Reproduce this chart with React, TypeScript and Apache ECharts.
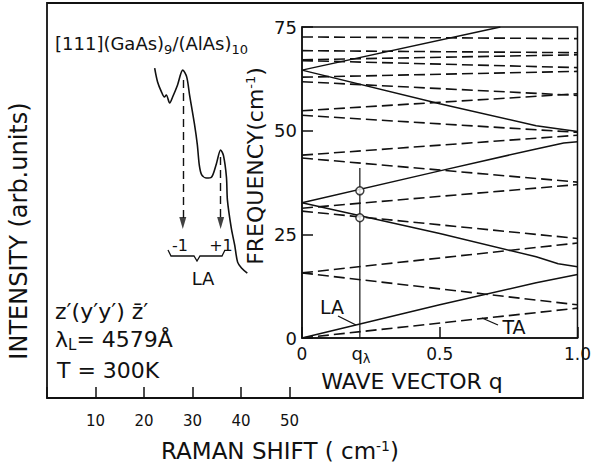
import React, { useEffect, useRef } from 'react';
import * as echarts from 'echarts';

// ---------- Left panel: Raman spectrum ----------
const ramanTickValues = [10, 20, 30, 40, 50];
const spectrumShift = [22.2, 22.8, 23.6, 24.2, 24.6, 25.3, 25.9, 26.9, 28.0, 28.8, 29.4, 30.4, 31.0, 31.4, 31.9, 32.9, 33.9, 34.9, 35.8, 36.4, 37.0, 37.2, 38.0, 38.7, 39.3, 40.1, 41.3];
const spectrumIntensity = [83.5, 80.0, 77.5, 76.2, 76.7, 74.7, 76.2, 79.2, 83.0, 81.3, 76.7, 69.4, 64.1, 59.0, 56.5, 55.7, 55.9, 59.2, 62.8, 61.3, 55.9, 50.1, 43.0, 38.7, 34.4, 32.9, 31.6];
const peakLabels = ['-1', '+1'];
const peakShift = [28.0, 35.8];
const peakArrowTop = [80.5, 61.0];
const peakArrowBottom = [42.8, 42.8];

// ---------- Right panel: folded phonon dispersion ----------
const freqTicks = [0, 25, 50, 75];
const qTickValues = [0, 0.5, 1];
const qTickLabels = ['0', '0.5', '1.0'];
const laBranches = [
  [[0, 0], [0.5, 8.0], [0.85, 13.3], [1, 15.3]],
  [[0, 32.6], [0.5, 25.2], [0.85, 19.6], [0.93, 17.9], [1, 17.2]],
  [[0, 32.6], [0.5, 40.3], [0.85, 45.6], [0.95, 47.0], [1, 47.3]],
  [[0, 64.6], [0.5, 56.5], [0.85, 51.2], [1, 49.8]],
  [[0, 64.6], [0.72, 75]],
];
const taBranches = [
  [[0, 0], [1, 7.2]],
  [[0, 15.7], [1, 8.0]],
  [[0, 15.7], [1, 22.9]],
  [[0, 30.6], [1, 24.0]],
  [[0, 31.3], [1, 37.0]],
  [[0, 43.4], [1, 37.6]],
  [[0, 44.1], [1, 48.9]],
  [[0, 53.7], [1, 49.6]],
  [[0, 54.8], [1, 58.9]],
  [[0, 61.8], [1, 58.5]],
  [[0, 62.9], [1, 64.3]],
  [[0, 66.9], [1, 65.2]],
  [[0, 67.1], [1, 68.3]],
  [[0, 69.3], [1, 68.8]],
  [[0, 72.6], [1, 72.2]],
];
const qLambda = 0.21;
const qLambdaModes = [35.5, 29.0];
const qLambdaLineTop = 41;

const ink = '#111';
const FF = 'DejaVu Sans';

function txt(x: number, y: number, text: string, fontSize: number, extra: any = {}, rich: any = undefined) {
  return {
    type: 'text',
    x,
    y,
    silent: true,
    ...extra,
    style: {
      text,
      fontSize,
      fontFamily: FF,
      fill: ink,
      align: extra.align || 'left',
      verticalAlign: 'middle',
      rich,
    },
  };
}

const subRich = (size: number, pad: number) => ({ fontSize: size, fontFamily: FF, fill: ink, padding: [pad, 0, 0, 0] });
const supRich = (size: number, pad: number) => ({ fontSize: size, fontFamily: FF, fill: ink, padding: [0, 0, pad, 0] });

export default function App() {
  const ref = useRef<HTMLDivElement>(null);
  useEffect(() => {
    if (!ref.current) return;
    const chart = echarts.init(ref.current, null, { renderer: 'svg' });

    const axisLineStyle = { color: ink, width: 1.5 };
    const series: any[] = [];

    series.push({
      type: 'line',
      xAxisIndex: 1,
      yAxisIndex: 1,
      data: spectrumShift.map((s, i) => [s, spectrumIntensity[i]]),
      showSymbol: false,
      smooth: 0.3,
      lineStyle: { color: ink, width: 1.6 },
      markLine: {
        silent: true,
        symbol: ['none', 'none'],
        label: { show: false },
        lineStyle: { color: ink, width: 1.4, type: [8, 5] },
        data: peakShift.map((s, i) => [
          { coord: [s, peakArrowTop[i]] },
          { coord: [s, peakArrowBottom[i] + 2] },
        ]),
      },
    });
    // arrowheads of the dashed arrows
    series.push({
      type: 'scatter',
      xAxisIndex: 1,
      yAxisIndex: 1,
      data: peakShift.map((s, i) => [s, peakArrowBottom[i]]),
      symbol: 'triangle',
      symbolRotate: 180,
      symbolSize: [7, 12],
      symbolOffset: [0, -6],
      itemStyle: { color: ink },
      silent: true,
    });

    laBranches.forEach((b) => {
      series.push({
        type: 'line',
        xAxisIndex: 2,
        yAxisIndex: 2,
        data: b,
        showSymbol: false,
        lineStyle: { color: ink, width: 1.5 },
      });
    });
    taBranches.forEach((b) => {
      series.push({
        type: 'line',
        xAxisIndex: 2,
        yAxisIndex: 2,
        data: b,
        showSymbol: false,
        lineStyle: { color: ink, width: 1.6, type: [11, 5] },
      });
    });
    series.push({
      type: 'line',
      xAxisIndex: 2,
      yAxisIndex: 2,
      data: [[qLambda, 0], [qLambda, qLambdaLineTop]],
      showSymbol: false,
      lineStyle: { color: ink, width: 1.2 },
    });
    series.push({
      type: 'scatter',
      xAxisIndex: 2,
      yAxisIndex: 2,
      data: qLambdaModes.map((f) => [qLambda, f]),
      symbol: 'circle',
      symbolSize: 8,
      z: 5,
      itemStyle: { color: '#fff', borderColor: ink, borderWidth: 1.5 },
    });

    const graphic: any[] = [
      txt(55, 43, '[111](GaAs){s|9}/(AlAs){s|10}', 18, {}, { s: subRich(13, 12) }),
      txt(19, 231, 'INTENSITY (arb.units)', 24, { align: 'center', rotation: Math.PI / 2 }),
      txt(255, 166, 'FREQUENCY(cm{p|-1})', 22, { align: 'center', rotation: Math.PI / 2 }, { p: supRich(13, 10) }),
      txt(412, 381, 'WAVE VECTOR q', 22, { align: 'center' }),
      txt(280, 451, 'RAMAN SHIFT ( cm{p|-1})', 23, { align: 'center' }, { p: supRich(14, 10) }),
      txt(55, 311, "z\u2032(y\u2032y\u2032) z\u0304\u2032", 22),
      txt(55, 339, '\u03bb{s|L}= 4579\u00c5', 22, {}, { s: subRich(15, 12) }),
      txt(57, 370, 'T = 300K', 22),
      txt(180, 245, peakLabels[0], 16, { align: 'center' }),
      txt(221, 245, peakLabels[1], 16, { align: 'center' }),
      txt(203, 278, 'LA', 18, { align: 'center' }),
      txt(361, 353, 'q{s|\u03bb}', 18, { align: 'center' }, { s: subRich(13, 10) }),
      txt(332, 307, 'LA', 19, { align: 'center' }),
      txt(514, 327, 'TA', 19, { align: 'center' }),
      {
        type: 'polyline',
        silent: true,
        shape: { points: [[168, 250], [171, 256], [194, 256], [197, 261], [200, 256], [222, 256], [225, 250]] },
        style: { stroke: ink, lineWidth: 1.3, fill: 'none' },
      },
      { type: 'line', silent: true, shape: { x1: 338, y1: 316, x2: 356, y2: 325 }, style: { stroke: ink, lineWidth: 1.3 } },
      { type: 'line', silent: true, shape: { x1: 482, y1: 318, x2: 498, y2: 325 }, style: { stroke: ink, lineWidth: 1.3 } },
    ];

    chart.setOption({
      animation: false,
      backgroundColor: '#fff',
      grid: [
        { left: 47, top: 3, width: 536, height: 395, show: true, borderColor: ink, borderWidth: 1.8, backgroundColor: 'transparent' },
        { left: 47, top: 3, width: 242.5, height: 395 },
        { left: 302, top: 27, width: 281, height: 311, show: true, borderColor: ink, borderWidth: 1.5, backgroundColor: 'transparent' },
      ],
      xAxis: [
        { gridIndex: 0, type: 'value', show: false, min: 0, max: 1 },
        {
          gridIndex: 1, type: 'value', min: 0, max: 50, interval: 10,
          axisLine: { show: false },
          axisTick: { show: true, inside: true, length: 11, lineStyle: axisLineStyle },
          axisLabel: {
            formatter: (v: number) => (ramanTickValues.includes(v) ? String(v) : ''),
            fontSize: 15, color: ink, margin: 15, fontFamily: FF,
          },
          splitLine: { show: false },
        },
        {
          gridIndex: 2, type: 'value', min: 0, max: 1, interval: 0.5,
          axisLine: { show: true, lineStyle: axisLineStyle },
          axisTick: { show: true, inside: true, length: 11, lineStyle: axisLineStyle },
          axisLabel: {
            formatter: (v: number) => {
              const i = qTickValues.indexOf(v);
              return i >= 0 ? qTickLabels[i] : '';
            },
            fontSize: 17, color: ink, margin: 7, fontFamily: FF,
          },
          splitLine: { show: false },
        },
      ],
      yAxis: [
        { gridIndex: 0, type: 'value', show: false, min: 0, max: 1 },
        { gridIndex: 1, type: 'value', show: false, min: 0, max: 100 },
        {
          gridIndex: 2, type: 'value', min: 0, max: 75, interval: 25,
          axisLine: { show: true, lineStyle: axisLineStyle },
          axisTick: { show: true, inside: true, length: 11, lineStyle: axisLineStyle },
          axisLabel: {
            formatter: (v: number) => (freqTicks.includes(v) ? String(v) : ''),
            fontSize: 18, color: ink, margin: 5, fontFamily: FF,
          },
          splitLine: { show: false },
        },
      ],
      series,
      graphic,
    });
    return () => chart.dispose();
  }, []);
  return <div ref={ref} style={{ position: 'absolute', left: 0, top: 0, width: 594, height: 467 }} />;
}
